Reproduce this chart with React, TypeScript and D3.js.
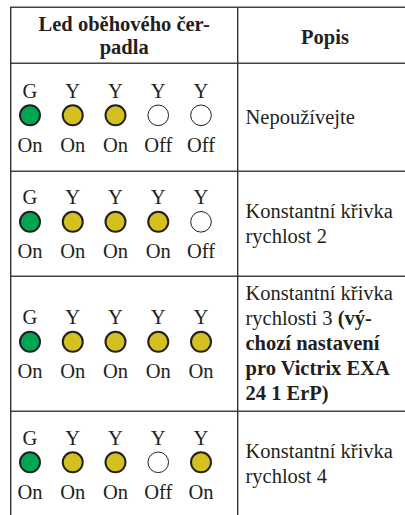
import React from 'react';
import * as d3 from 'd3';

// table content
const headerLeft = ['Led oběhového čer-', 'padla'];
const headerRight = 'Popis';
const ledLabels = ['G', 'Y', 'Y', 'Y', 'Y'];
const ledKinds = ['green', 'yellow', 'yellow', 'yellow', 'yellow'];
// 1 = On, 0 = Off, per row
const ledStates = [
  [1, 1, 1, 0, 0],
  [1, 1, 1, 1, 0],
  [1, 1, 1, 1, 1],
  [1, 1, 1, 0, 1],
];
type Seg = { t: string; b?: boolean };
const descriptions: Seg[][][] = [
  [[{ t: 'Nepoužívejte' }]],
  [[{ t: 'Konstantní křivka' }], [{ t: 'rychlost 2' }]],
  [
    [{ t: 'Konstantní křivka' }],
    [{ t: 'rychlosti 3 ' }, { t: '(vý-', b: true }],
    [{ t: 'chozí nastavení', b: true }],
    [{ t: 'pro Victrix EXA', b: true }],
    [{ t: '24 1 ErP)', b: true }],
  ],
  [[{ t: 'Konstantní křivka' }], [{ t: 'rychlost 4' }]],
];

// layout
const W = 405;
const H = 515;
const tableTop = 7.3;
const headerH = 56;
const rowHeights = [108, 105, 135, 106];
const colLeft = 10.7;
const colMid = 237.7;
const lineH = 25;
const fill: Record<string, string> = { green: '#00a651', yellow: '#d4c11f' };
const ink = '#231f20';
const FONT = "'Liberation Serif'";

const App: React.FC = () => {
  const x = d3.scalePoint<number>().domain(d3.range(ledLabels.length)).range([30, 201]);
  const rowTops = d3.cumsum([tableTop + headerH, ...rowHeights]);
  const rowY = (i: number) => rowTops[i];

  return (
    <svg width={W} height={H} style={{ position: 'absolute', left: 0, top: 0, background: '#fff' }}>
      <style>{`text, tspan { font-family: 'Liberation Serif', 'Times New Roman' !important; font-size: 20.5px; fill: ${ink}; } .b { font-weight: bold; }`}</style>
      {/* header */}
      {headerLeft.map((s, i) => (
        <text key={i} className="b" fontFamily={FONT} x={(colLeft + colMid) / 2} y={31 + i * 22.5} textAnchor="middle">{s}</text>
      ))}
      <text className="b" fontFamily={FONT} x={325} y={44} textAnchor="middle">{headerRight}</text>

      {ledStates.map((row, r) => {
        const top = rowY(r);
        const h = rowHeights[r];
        const cy = top + h / 2 - 2;
        const lines = descriptions[r];
        const firstBase = top + h / 2 + 6.5 - ((lines.length - 1) * lineH) / 2;
        return (
          <g key={r}>
            {row.map((on, i) => (
              <g key={i}>
                <text fontFamily={FONT} x={x(i)} y={cy - 17.4} textAnchor="middle">{ledLabels[i]}</text>
                <circle cx={x(i)} cy={cy} r={on ? 10 : 10.3}
                  fill={on ? fill[ledKinds[i]] : '#fff'}
                  stroke={ink} strokeWidth={on ? 2 : 1} />
                <text fontFamily={FONT} x={x(i)} y={cy + 36.5} textAnchor="middle">{on ? 'On' : 'Off'}</text>
              </g>
            ))}
            {lines.map((segs, l) => (
              <text key={l} fontFamily={FONT} x={245.5} y={firstBase + l * lineH}>
                {segs.map((s, k) => (
                  <tspan key={k} className={s.b ? 'b' : undefined}>{s.t}</tspan>
                ))}
              </text>
            ))}
          </g>
        );
      })}

      {/* grid lines */}
      {[tableTop, ...rowTops.slice(0, rowHeights.length)].map((y, i) => (
        <line key={i} x1={colLeft - 0.75} x2={W} y1={y} y2={y} stroke="#444" strokeWidth={1.6} />
      ))}
      <line x1={colLeft} x2={colLeft} y1={tableTop} y2={H} stroke="#333" strokeWidth={1.4} />
      <line x1={colMid} x2={colMid} y1={tableTop} y2={H} stroke="#333" strokeWidth={1.4} />
    </svg>
  );
};

export default App;
